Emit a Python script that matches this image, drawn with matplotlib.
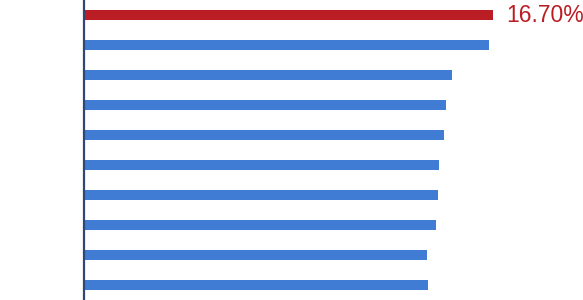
import matplotlib
matplotlib.use("Agg")
import matplotlib.pyplot as plt

categories = ["c1", "c2", "c3", "c4", "c5", "c6", "c7", "c8", "c9", "c10"]
values = [16.70, 16.50, 14.99, 14.75, 14.70, 14.50, 14.46, 14.34, 14.01, 14.05]
highlight_label = "16.70%"

colors = ["#BA1E24"] + ["#407CD4"] * (len(values) - 1)

fig = plt.figure(figsize=(5.83, 3.00), dpi=100)
ax = fig.add_axes([83.5 / 583, 0, (583 - 83.5) / 583, 1])
pos = list(range(len(values)))
ax.barh(pos, values, height=1 / 3, color=colors)
ax.set_ylim(len(values) - 0.5, -0.5)
ax.set_xlim(0, 499.5 / 24.55)
for s in ["top", "right", "bottom"]:
    ax.spines[s].set_visible(False)
ax.spines["left"].set_color("#2E4777")
ax.spines["left"].set_linewidth(1.6)
ax.set_xticks([])
ax.set_yticks([])
ax.text(values[0] + 0.5, 0, highlight_label, color="#BA1E24",
        fontsize=16.5, family="Liberation Sans", va="center", ha="left")
fig.savefig("out.png", dpi=100)
